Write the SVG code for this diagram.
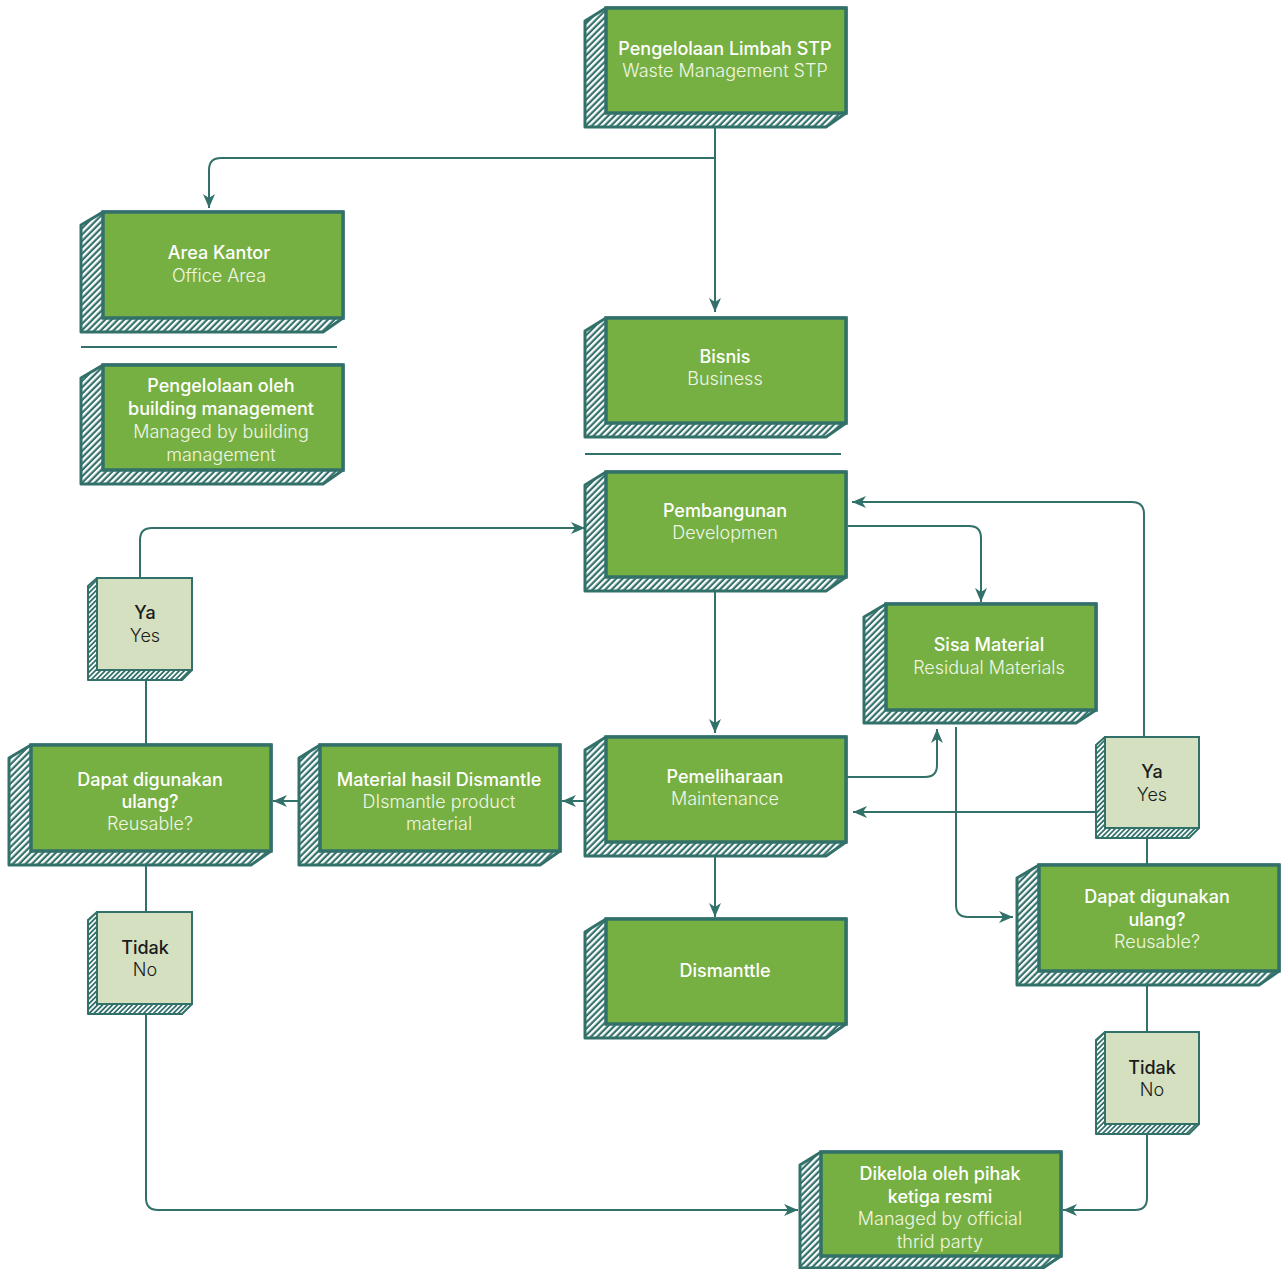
<svg xmlns="http://www.w3.org/2000/svg" width="1282" height="1269" viewBox="0 0 1282 1269">
<style>
.side{fill:url(#hatch);stroke:#32706a;stroke-width:3;stroke-linejoin:round}
.face{fill:#77b042;stroke:#32706a;stroke-width:3.5}
.lface{fill:#d4e0c0;stroke:#32706a;stroke-width:2}
.lside{fill:url(#hatch2);stroke:#32706a;stroke-width:2;stroke-linejoin:round}
.t1{font-family:Inter,"Open Sans",sans-serif;font-size:18px;font-weight:500;fill:#ffffff;text-anchor:middle}
.t2{font-family:Inter,"Open Sans",sans-serif;font-size:18px;font-weight:300;fill:#f0f6e6;text-anchor:middle}
.d1{font-family:Inter,"Open Sans",sans-serif;font-size:18px;font-weight:500;fill:#1b1b1b;text-anchor:middle}
.d2{font-family:Inter,"Open Sans",sans-serif;font-size:18px;font-weight:300;fill:#1b1b1b;text-anchor:middle}
.c{fill:none;stroke:#32706a;stroke-width:2}
.a{marker-end:url(#arr)}
.sep{stroke:#32706a;stroke-width:2}
</style>
<defs>
<pattern id="hatch" width="4.5" height="4.5" patternUnits="userSpaceOnUse" patternTransform="rotate(45)">
<rect width="4.5" height="4.5" fill="#32706a"/>
<rect width="2.3" height="4.5" fill="#ffffff"/>
</pattern>
<pattern id="hatch2" width="3.5" height="3.5" patternUnits="userSpaceOnUse" patternTransform="rotate(45)">
<rect width="3.5" height="3.5" fill="#32706a"/>
<rect width="1.7" height="3.5" fill="#ffffff"/>
</pattern>
<marker id="arr" viewBox="0 0 14 12" refX="14" refY="6" markerWidth="14" markerHeight="12" markerUnits="userSpaceOnUse" orient="auto">
<path d="M0,0 L14,6 L0,12 L4,6 Z" fill="#32706a"/>
</marker>
</defs>

<g id="connectors">
<path class="c a" d="M715,127 V312"/>
<path class="c a" d="M715,158 H221 Q209,158 209,170 V208"/>
<path class="c a" d="M848,526 H969 Q981,526 981,538 V602"/>
<path class="c a" d="M1144,737 V514 Q1144,502 1132,502 H852"/>
<path class="c a" d="M140,578 V540 Q140,528 152,528 H585"/>
<path class="c a" d="M715,591 V733"/>
<path class="c a" d="M846,777 H925 Q937,777 937,765 V729"/>
<path class="c a" d="M1095,812 H853"/>
<path class="c a" d="M956,727 V905 Q956,917 968,917 H1013"/>
<path class="c a" d="M585,801 H562"/>
<path class="c a" d="M299,801 H273"/>
<path class="c" d="M146,680 V745"/>
<path class="c" d="M146,865 V912"/>
<path class="c a" d="M146,1014 V1198 Q146,1210 158,1210 H798"/>
<path class="c a" d="M715,856 V917"/>
<path class="c" d="M1147,838 V865"/>
<path class="c" d="M1147,985 V1032"/>
<path class="c a" d="M1147,1134 V1198 Q1147,1210 1135,1210 H1063"/>
</g>

<g id="separators">
<line class="sep" x1="81" y1="347" x2="337" y2="347"/>
<line class="sep" x1="585" y1="454" x2="841" y2="454"/>
</g>

<g id="node-stp">
<path class="side" d="M585,21 L606,8 H846 V113 L826,127 H585 Z"/>
<rect class="face" x="606" y="8" width="240" height="105"/>
<text class="t1" x="725" y="55">Pengelolaan Limbah STP</text>
<text class="t2" x="725" y="77">Waste Management STP</text>
</g>

<g id="node-area-kantor">
<path class="side" d="M81,225 L103,212 H343 V318 L323,332 H81 Z"/>
<rect class="face" x="103" y="212" width="240" height="106"/>
<text class="t1" x="219" y="259">Area Kantor</text>
<text class="t2" x="219" y="282">Office Area</text>
</g>

<g id="node-building">
<path class="side" d="M81,378 L103,365 H343 V470 L323,484 H81 Z"/>
<rect class="face" x="103" y="365" width="240" height="105"/>
<text class="t1" x="221" y="392">Pengelolaan oleh</text>
<text class="t1" x="221" y="415">building management</text>
<text class="t2" x="221" y="438">Managed by building</text>
<text class="t2" x="221" y="461">management</text>
</g>

<g id="node-bisnis">
<path class="side" d="M585,331 L606,318 H846 V423 L826,437 H585 Z"/>
<rect class="face" x="606" y="318" width="240" height="105"/>
<text class="t1" x="725" y="363">Bisnis</text>
<text class="t2" x="725" y="385">Business</text>
</g>

<g id="node-pembangunan">
<path class="side" d="M585,485 L606,472 H846 V577 L826,591 H585 Z"/>
<rect class="face" x="606" y="472" width="240" height="105"/>
<text class="t1" x="725" y="517">Pembangunan</text>
<text class="t2" x="725" y="539">Developmen</text>
</g>

<g id="node-sisa">
<path class="side" d="M864,617 L886,604 H1096 V710 L1076,723 H864 Z"/>
<rect class="face" x="886" y="604" width="210" height="106"/>
<text class="t1" x="989" y="651">Sisa Material</text>
<text class="t2" x="989" y="674">Residual Materials</text>
</g>

<g id="node-pemeliharaan">
<path class="side" d="M585,750 L606,737 H846 V842 L826,856 H585 Z"/>
<rect class="face" x="606" y="737" width="240" height="105"/>
<text class="t1" x="725" y="783">Pemeliharaan</text>
<text class="t2" x="725" y="805">Maintenance</text>
</g>

<g id="node-dismantle">
<path class="side" d="M585,932 L606,919 H846 V1024 L826,1038 H585 Z"/>
<rect class="face" x="606" y="919" width="240" height="105"/>
<text class="t1" x="725" y="977">Dismanttle</text>
</g>

<g id="node-material">
<path class="side" d="M299,758 L320,745 H560 V851 L540,865 H299 Z"/>
<rect class="face" x="320" y="745" width="240" height="106"/>
<text class="t1" x="439" y="786">Material hasil Dismantle</text>
<text class="t2" x="439" y="808">DIsmantle product</text>
<text class="t2" x="439" y="830">material</text>
</g>

<g id="node-dapat-left">
<path class="side" d="M9,758 L31,745 H271 V851 L251,865 H9 Z"/>
<rect class="face" x="31" y="745" width="240" height="106"/>
<text class="t1" x="150" y="786">Dapat digunakan</text>
<text class="t1" x="150" y="808">ulang?</text>
<text class="t2" x="150" y="830">Reusable?</text>
</g>

<g id="node-dapat-right">
<path class="side" d="M1017,878 L1039,865 H1279 V971 L1259,985 H1017 Z"/>
<rect class="face" x="1039" y="865" width="240" height="106"/>
<text class="t1" x="1157" y="903">Dapat digunakan</text>
<text class="t1" x="1157" y="926">ulang?</text>
<text class="t2" x="1157" y="948">Reusable?</text>
</g>

<g id="node-dikelola">
<path class="side" d="M800,1165 L821,1152 H1061 V1256 L1043,1268 H800 Z"/>
<rect class="face" x="821" y="1152" width="240" height="104"/>
<text class="t1" x="940" y="1180">Dikelola oleh pihak</text>
<text class="t1" x="940" y="1203">ketiga resmi</text>
<text class="t2" x="940" y="1225">Managed by official</text>
<text class="t2" x="940" y="1248">thrid party</text>
</g>

<g id="node-ya-left">
<path class="lside" d="M88,586 L97,578 H192 V670 L182,680 H88 Z"/>
<rect class="lface" x="97" y="578" width="95" height="92"/>
<text class="d1" x="145" y="619">Ya</text>
<text class="d2" x="145" y="642">Yes</text>
</g>

<g id="node-tidak-left">
<path class="lside" d="M88,920 L97,912 H192 V1004 L182,1014 H88 Z"/>
<rect class="lface" x="97" y="912" width="95" height="92"/>
<text class="d1" x="145" y="954">Tidak</text>
<text class="d2" x="145" y="976">No</text>
</g>

<g id="node-ya-right">
<path class="lside" d="M1096,745 L1105,737 H1199 V828 L1189,838 H1096 Z"/>
<rect class="lface" x="1105" y="737" width="94" height="91"/>
<text class="d1" x="1152" y="778">Ya</text>
<text class="d2" x="1152" y="801">Yes</text>
</g>

<g id="node-tidak-right">
<path class="lside" d="M1096,1040 L1105,1032 H1199 V1124 L1189,1134 H1096 Z"/>
<rect class="lface" x="1105" y="1032" width="94" height="92"/>
<text class="d1" x="1152" y="1074">Tidak</text>
<text class="d2" x="1152" y="1096">No</text>
</g>
</svg>
